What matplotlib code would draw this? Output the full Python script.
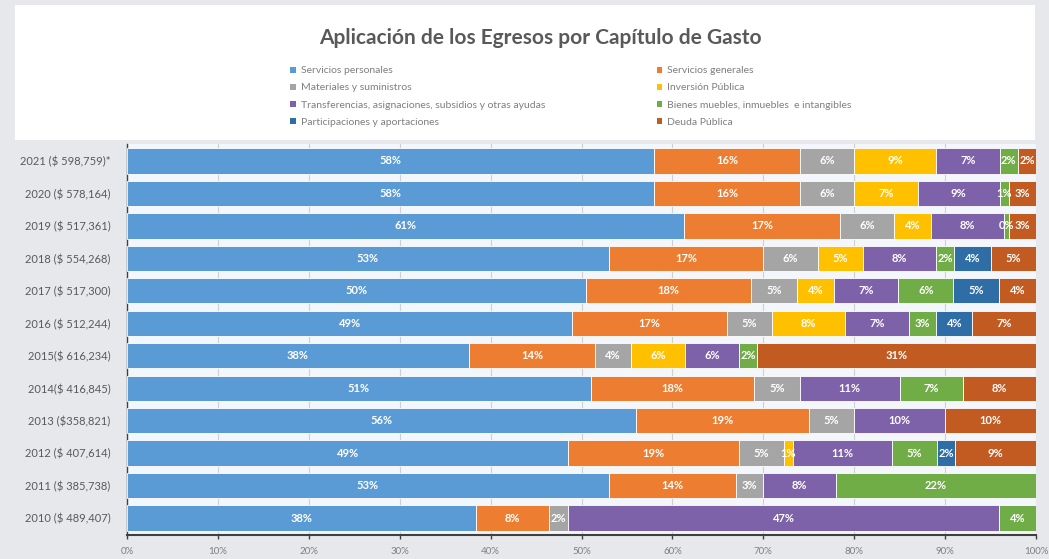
import matplotlib
matplotlib.use("Agg")
import matplotlib.pyplot as plt
from matplotlib.patches import Rectangle, Patch
import numpy as np

plt.rcParams['font.family'] = ['Lato', 'DejaVu Sans']

years = ["2021 ($ 598,759)*", "2020 ($ 578,164)", "2019 ($ 517,361)", "2018 ($ 554,268)",
         "2017 ($ 517,300)", "2016 ($ 512,244)", "2015($ 616,234)", "2014($ 416,845)",
         "2013 ($358,821)", "2012 ($ 407,614)", "2011 ($ 385,738)", "2010 ($ 489,407)"]

categories = ["Servicios personales", "Servicios generales", "Materiales y suministros",
              "Inversión Pública", "Transferencias, asignaciones, subsidios y otras ayudas",
              "Bienes muebles, inmuebles  e intangibles", "Participaciones y aportaciones",
              "Deuda Pública"]

# values per category, rows in the order of `years`
servicios_personales = [58, 58, 61, 53, 50, 49, 38, 51, 56, 49, 53, 38]
servicios_generales  = [16, 16, 17, 17, 18, 17, 14, 18, 19, 19, 14, 8]
materiales           = [6, 6, 6, 6, 5, 5, 4, 5, 5, 5, 3, 2]
inversion_publica    = [9, 7, 4, 5, 4, 8, 6, 0, 0, 1, 0, 0]
transferencias       = [7, 9, 8, 8, 7, 7, 6, 11, 10, 11, 8, 47]
bienes_muebles       = [2, 1, 0.5, 2, 6, 3, 2, 7, 0, 5, 22, 4]
participaciones      = [0, 0, 0, 4, 5, 4, 0, 0, 0, 2, 0, 0]
deuda_publica        = [2, 3, 3, 5, 4, 7, 31, 8, 10, 9, 0, 0]

colors = ["#5B9BD5", "#ED7D31", "#A5A5A5", "#FFC000", "#7E62A9", "#70AD47", "#2F6DA6", "#C15B22"]

series = [servicios_personales, servicios_generales, materiales, inversion_publica,
          transferencias, bienes_muebles, participaciones, deuda_publica]

data = np.array(series, dtype=float)
totals = data.sum(axis=0)
shares = data / totals * 100  # 100% stacked

fig = plt.figure(figsize=(10.49, 5.59), dpi=100, facecolor="#e6e8eb")
# white chart area at the top
fig.patches.append(Rectangle((15/1049, 1-140/559), 1020/1049, 135/559,
                             transform=fig.transFigure, facecolor="white",
                             edgecolor="none", zorder=0))

ax = fig.add_axes([127/1049, 1-535/559, 909/1049, 391/559])
ax.set_facecolor("#f3f6fa")

n = len(years)
y = np.arange(n)[::-1]
left = np.zeros(n)
for i, (vals, c) in enumerate(zip(shares, colors)):
    ax.barh(y, vals, left=left, height=0.78, color=c, edgecolor="white",
            linewidth=0.6, zorder=3, label=categories[i])
    for j in range(n):
        raw = data[i, j]
        if raw > 0:
            lab = f"{int(round(raw))}%" if raw >= 1 else "0%"
            ax.text(left[j] + vals[j] / 2, y[j], lab, ha="center", va="center",
                    color="white", fontsize=8, fontweight="bold", zorder=4)
    left = left + vals

ax.set_xlim(0, 100)
ax.set_ylim(-0.52, n - 0.48)
ax.set_xticks(np.arange(0, 101, 10))
ax.set_xticklabels([f"{v}%" for v in range(0, 101, 10)], fontsize=7, color="#7f7f7f")
ax.set_yticks(y)
ax.set_yticklabels(years, fontsize=8, color="#595959")
ax.tick_params(axis="y", length=0, pad=12)
ax.tick_params(axis="x", length=3, width=1, color="#404040", pad=6)
ax.grid(axis="x", color="#d0d0d0", linewidth=0.8, zorder=0)
for s in ["top", "right"]:
    ax.spines[s].set_visible(False)
ax.spines["bottom"].set_color("#404040")
ax.spines["bottom"].set_linewidth(1.5)
ax.spines["left"].set_color("#404040")
ax.spines["left"].set_linewidth(1.0)

fig.text(540/1049, 1-38/559, "Aplicación de los Egresos por Capítulo de Gasto",
         ha="center", va="center", fontsize=15, fontweight="bold", color="#595959")

handles = [Patch(facecolor=c, edgecolor="none") for c in colors]
order = [0, 2, 4, 6, 1, 3, 5, 7]
leg = fig.legend([handles[k] for k in order], [categories[k] for k in order],
                 ncol=2, loc="upper left", bbox_to_anchor=(281/1049, 1-57/559),
                 frameon=False, fontsize=7.5, handlelength=0.55, handleheight=0.55,
                 handletextpad=0.45, labelspacing=0.78, columnspacing=10.7)
for t in leg.get_texts():
    t.set_color("#7f7f7f")

fig.savefig("out.png", dpi=100, facecolor=fig.get_facecolor())
